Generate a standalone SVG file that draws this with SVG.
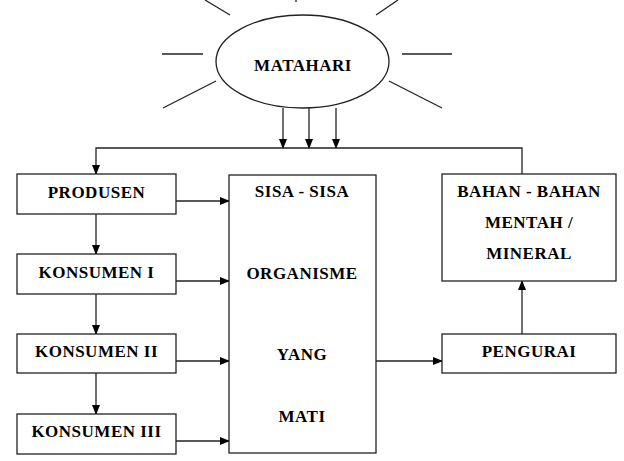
<svg xmlns="http://www.w3.org/2000/svg" width="624" height="461" viewBox="0 0 624 461">
<defs>
<marker id="ah" markerWidth="10" markerHeight="8" refX="9" refY="4" orient="auto" markerUnits="userSpaceOnUse">
<path d="M0,0 L10,4 L0,8 Z" fill="#000"/>
</marker>
</defs>
<style>
.box{fill:#fff;stroke:#222;stroke-width:1.3}
.ln{fill:none;stroke:#222;stroke-width:1.3}
.arr{fill:none;stroke:#222;stroke-width:1.3;marker-end:url(#ah)}
text{font-family:"Liberation Serif","Times New Roman",serif;font-weight:bold;font-size:17px;letter-spacing:0.5px;text-anchor:middle;fill:#000}
</style>
<rect width="624" height="461" fill="#fff"/>
<g id="matahari">
<ellipse class="box" cx="302.5" cy="61.5" rx="86.5" ry="46.5"/>
<line class="ln" x1="205" y1="0" x2="230" y2="15"/>
<line class="ln" x1="376" y1="15" x2="398" y2="0"/>
<line class="ln" x1="296" y1="0" x2="296" y2="2"/>
<line class="ln" x1="162" y1="54" x2="203" y2="54"/>
<line class="ln" x1="402" y1="54" x2="452" y2="54"/>
<line class="ln" x1="163" y1="108" x2="216" y2="81"/>
<line class="ln" x1="389" y1="81" x2="442" y2="108"/>
<text x="303" y="71">MATAHARI</text>
</g>
<g id="connectors">
<line class="arr" x1="283" y1="108" x2="283" y2="148"/>
<line class="arr" x1="309" y1="108" x2="309" y2="148"/>
<line class="arr" x1="336" y1="108" x2="336" y2="148"/>
<polyline class="arr" points="522,174 522,148 96,148 96,174"/>
<line class="arr" x1="96" y1="214" x2="96" y2="254"/>
<line class="arr" x1="96" y1="294" x2="96" y2="334"/>
<line class="arr" x1="96" y1="373" x2="96" y2="414"/>
<line class="arr" x1="176" y1="201" x2="229" y2="201"/>
<line class="arr" x1="176" y1="281" x2="229" y2="281"/>
<line class="arr" x1="176" y1="361" x2="229" y2="361"/>
<line class="arr" x1="176" y1="441" x2="229" y2="441"/>
<line class="arr" x1="376" y1="361" x2="442" y2="361"/>
<line class="arr" x1="522" y1="334" x2="522" y2="281"/>
</g>
<g id="produsen">
<rect class="box" x="17" y="174" width="159" height="40"/>
<text x="96.5" y="198">PRODUSEN</text>
</g>
<g id="konsumen1">
<rect class="box" x="17" y="254" width="159" height="40"/>
<text x="96.5" y="278">KONSUMEN I</text>
</g>
<g id="konsumen2">
<rect class="box" x="17" y="334" width="159" height="39"/>
<text x="96.5" y="357">KONSUMEN II</text>
</g>
<g id="konsumen3">
<rect class="box" x="17" y="414" width="159" height="40"/>
<text x="96.5" y="437">KONSUMEN III</text>
</g>
<g id="sisa">
<rect class="box" x="229" y="175" width="147" height="278"/>
<text x="302" y="197">SISA - SISA</text>
<text x="302" y="279">ORGANISME</text>
<text x="302" y="360">YANG</text>
<text x="302" y="422">MATI</text>
</g>
<g id="bahan">
<rect class="box" x="442" y="174" width="174" height="107"/>
<text x="529" y="197">BAHAN - BAHAN</text>
<text x="529" y="228">MENTAH /</text>
<text x="529" y="259">MINERAL</text>
</g>
<g id="pengurai">
<rect class="box" x="442" y="334" width="174" height="39"/>
<text x="529" y="357">PENGURAI</text>
</g>
</svg>
